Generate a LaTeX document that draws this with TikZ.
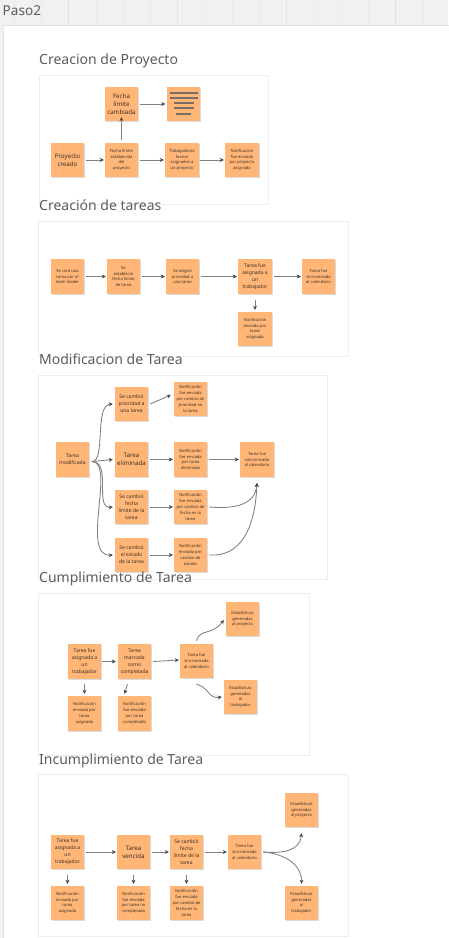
\documentclass[tikz,border=0pt]{standalone}
\usepackage{fontspec}
\setmainfont{Noto Sans}
\usetikzlibrary{arrows.meta,shadows}
\definecolor{notefill}{HTML}{FFB677}
\definecolor{framec}{HTML}{EDEDED}
\definecolor{bandc}{HTML}{F1F1F1}
\definecolor{gridc}{HTML}{EBEBEB}
\definecolor{gridd}{HTML}{E2E2E2}
\definecolor{titlec}{HTML}{5C5C5C}
\definecolor{linkc}{HTML}{808080}
\definecolor{inkc}{HTML}{3E3024}
\tikzset{
  notebox/.style={minimum width=#1,inner sep=0.5pt,align=center,text=inkc,fill=notefill,
    drop shadow={shadow xshift=0.7pt,shadow yshift=-1pt,opacity=.14,fill=black}},
  big/.style={font=\fontsize{6.2}{8.3}\selectfont},
  mid/.style={font=\fontsize{5}{7}\selectfont},
  small/.style={font=\fontsize{4.1}{5.8}\selectfont},
  frm/.style={draw=framec,line width=0.9pt,fill=white},
  ttl/.style={anchor=base west,inner sep=0pt,text=titlec,font=\fontsize{14}{15}\selectfont},
  lnk/.style={draw=linkc,line width=0.85pt,-{Stealth[length=4pt,width=4pt,color=black!72]}},
}
\newcommand{\note}[7]{% name, style, x0, y0, x1, y1, text
  \node[notebox=#5pt-#3pt,#2,minimum height=#6pt-#4pt] (#1) at ({(#3+#5)/2},{-(#4+#6)/2}) {#7};}
\begin{document}
\begin{tikzpicture}[x=1pt,y=1pt]
\useasboundingbox (0,0) rectangle (448,-938);
\fill[bandc] (0,0) rectangle (448,-938);
\foreach \g in {14,41,96,123,150,205,232,259,314,341,368,423}{\draw[gridc,line width=.5pt] (\g,0) -- (\g,-25);}
\foreach \g in {68,177,286,395}{\draw[gridd,line width=.6pt] (\g,0) -- (\g,-25);}
\draw[gridd,line width=1pt,fill=white] (3,-25.5) rectangle (449,-939);
\node[anchor=base west,inner sep=0pt,text=titlec,font=\fontsize{13.6}{15}\selectfont] (paso) at (2.5,-15) {Paso2};

% Section 1
\node[frm,anchor=north west,minimum width=229.5pt,minimum height=129.5pt,inner sep=0pt] (f1) at (38.5,-74.5) {};
\node[ttl] (t1) at (39,-64) {Creacion de Proyecto};
\note{a1}{big}{105}{87}{138}{121}{Fecha\\límite\\cambiada}
\note{a2}{big}{167}{87}{200}{121}{}
\foreach \yy/\hw in {93/14,98/14,103/10,108/10,114/7.5}{
  \draw[inkc!70,line width=1.1pt] (183.5-\hw,-\yy) -- (183.5+\hw,-\yy);}
\note{a3}{big}{51}{143}{84}{177}{Proyecto\\creado}
\note{a4}{small}{105}{143}{138}{177}{Fecha límite\\establecida\\del\\proyecto}
\note{a5}{small}{165}{143}{199}{177}{Trabajadores\\fueron\\asignados a\\un proyecto}
\note{a6}{small}{225}{143}{259}{177}{Notificación\\fue enviada\\por proyecto\\asignado}
\draw[lnk] ([xshift=2pt]a1.east) -- ([xshift=-1.5pt]a2.west);
\draw[lnk] ([yshift=3pt]a4.north) -- ([yshift=4pt]a4.north |- a1.south);
\draw[lnk] ([xshift=2pt]a3.east) -- ([xshift=-1pt]a4.west);
\draw[lnk] ([xshift=2pt]a4.east) -- ([xshift=-1pt]a5.west);
\draw[lnk] ([xshift=1pt]a5.east) -- ([xshift=-1pt]a6.west);

% Section 2
\node[frm,anchor=north west,minimum width=309.5pt,minimum height=135pt,inner sep=0pt] (f2) at (38.3,-220.7) {};
\node[ttl] (t2) at (39,-210) {Creación de tareas};
\note{b1}{small}{51}{259}{84}{294}{Se creó una\\tarea por el\\team leader}
\note{b2}{small}{107}{259}{140}{294}{Se\\estableció\\fecha límite\\de tarea}
\note{b3}{small}{166}{259}{199}{294}{Se asignó\\prioridad a\\una tarea}
\note{b4}{mid}{238}{259}{272}{294}{Tarea fue\\asignada a\\un\\trabajador}
\note{b5}{small}{302}{259}{335}{294}{Tarea fue\\sincronizada\\al calendario}
\note{b6}{small}{238}{312}{272}{346}{Notificación\\enviada por\\tarea\\asignada}
\draw[lnk] ([xshift=2pt]b1.east) -- ([xshift=-1pt]b2.west);
\draw[lnk] ([xshift=2pt]b2.east) -- ([xshift=-1pt]b3.west);
\draw[lnk] ([xshift=2pt]b3.east) -- ([xshift=-1pt]b4.west);
\draw[lnk] ([xshift=2pt]b4.east) -- ([xshift=-1pt]b5.west);
\draw[lnk] ([yshift=-6pt]b4.south) -- ([yshift=2pt]b6.north);

% Section 3
\node[frm,anchor=north west,minimum width=289pt,minimum height=204pt,inner sep=0pt] (f3) at (38,-374.5) {};
\node[ttl] (t3) at (39,-364) {Modificacion de Tarea};
\note{c1}{mid}{56}{442}{89}{477}{Tarea\\modificada}
\note{c2}{mid}{115}{387}{148}{421}{Se cambió\\prioridad a\\una tarea}
\note{c3}{small}{174}{382}{207}{416}{Notificación\\fue enviada\\por cambio de\\prioridad en\\la tarea}
\note{c4}{big}{115}{442}{148}{477}{Tarea\\eliminada}
\note{c5}{small}{174}{442}{207}{477}{Notificación\\fue enviada\\por tarea\\eliminada}
\note{c6}{small}{240}{442}{274}{477}{Tarea fue\\sincronizada\\al calendario}
\note{c7}{mid}{115}{490}{148}{524}{Se cambió\\fecha\\límite de la\\tarea}
\note{c8}{small}{174}{490}{207}{524}{Notificación\\fue enviada\\por cambio de\\fecha en la\\tarea}
\note{c9}{mid}{115}{538}{148}{572}{Se cambió\\el estado\\de la tarea}
\note{c10}{small}{174}{538}{207}{572}{Notificación\\enviada por\\cambio de\\estado}
\coordinate (cs) at (92,-461.5);
\coordinate (c6b) at (257,-483);
\draw[lnk] (cs) .. controls (106,-461.5) and (94,-405) .. ([xshift=-2pt]c2.west);
\draw[lnk] (cs) -- ([xshift=-2pt]c4.west);
\draw[lnk] (cs) .. controls (112,-461.5) and (94,-509) .. ([xshift=-2pt]c7.west);
\draw[lnk] (cs) .. controls (116,-461.5) and (80,-557) .. ([xshift=-2pt]c9.west);
\draw[lnk] ([xshift=2pt]c2.east) -- ([xshift=-3pt,yshift=4pt]c3.west);
\draw[lnk] ([xshift=2pt]c4.east) -- ([xshift=-1pt]c5.west);
\draw[lnk] ([xshift=2pt]c5.east) -- ([xshift=-1pt]c6.west);
\draw[lnk] ([xshift=2pt]c7.east) -- ([xshift=-1pt]c8.west);
\draw[lnk] ([xshift=2pt]c9.east) -- ([xshift=-1pt]c10.west);
\draw[lnk] ([xshift=2pt]c8.east) .. controls (235,-509) and (255,-505) .. (c6b);
\draw[lnk] ([xshift=2pt]c10.east) .. controls (240,-557) and (255,-530) .. (c6b);

% Section 4
\node[frm,anchor=north west,minimum width=271pt,minimum height=162pt,inner sep=0pt] (f4) at (38,-593) {};
\node[ttl] (t4) at (39,-582) {Cumplimiento de Tarea};
\note{d1}{mid}{68}{644}{101}{679}{Tarea fue\\asignada a\\un\\trabajador}
\note{d2}{mid}{118}{644}{151}{679}{Tarea\\marcada\\como\\completada}
\note{d3}{small}{180}{644}{213}{678}{Tarea fue\\sincronizada\\al calendario}
\note{d4}{small}{226}{602}{259}{636}{Estadísticas\\generadas\\al proyecto}
\note{d5}{small}{224}{680}{257}{714}{Estadísticas\\generadas\\al\\trabajador}
\note{d6}{small}{68}{696}{101}{731}{Notificación\\enviada por\\tarea\\asignada}
\note{d7}{small}{118}{696}{151}{731}{Notificación\\fue enviada\\por tarea\\completada}
\draw[lnk] ([xshift=1pt]d1.east) -- ([xshift=-2pt]d2.west);
\draw[lnk] ([xshift=2pt]d2.east) -- ([xshift=-1pt,yshift=1pt]d3.west);
\draw[lnk] ([yshift=-5pt]d1.south) -- ([yshift=2pt]d6.north);
\draw[lnk] ([yshift=-5pt,xshift=-7pt]d2.south) -- ([yshift=2pt,xshift=-10pt]d7.north);
\draw[lnk] ([yshift=3pt]d3.north) .. controls (200,-628) and (212,-636) .. ([xshift=-2pt,yshift=-1pt]d4.west);
\draw[lnk] ([yshift=-6pt]d3.south) .. controls (210,-688) and (208,-699) .. ([xshift=-2pt]d5.west);

% Section 5
\node[frm,anchor=north west,minimum width=310pt,minimum height=162pt,inner sep=0pt] (f5) at (38,-774) {};
\node[ttl] (t5) at (39,-764) {Incumplimiento de Tarea};
\note{e1}{mid}{51}{835}{84}{869}{Tarea fue\\asignada a\\un\\trabajador}
\note{e2}{big}{117}{835}{150}{869}{Tarea\\vencida}
\note{e3}{mid}{170}{835}{203}{869}{Se cambió\\fecha\\límite de la\\tarea}
\note{e4}{small}{228}{835}{261}{869}{Tarea fue\\sincronizada\\al calendario}
\note{e5}{small}{285}{793}{318}{827}{Estadísticas\\generadas\\al proyecto}
\note{e6}{small}{285}{886}{318}{920}{Estadísticas\\generadas\\al\\trabajador}
\note{e7}{small}{51}{886}{84}{920}{Notificación\\enviada por\\tarea\\asignada}
\note{e8}{small}{117}{886}{150}{920}{Notificación\\fue enviada\\por tarea no\\completada}
\note{e9}{small}{170}{886}{203}{920}{Notificación\\fue enviada\\por cambio de\\fecha en la\\tarea}
\draw[lnk] ([xshift=2pt]e1.east) -- ([xshift=-1pt]e2.west);
\draw[lnk] ([xshift=2pt]e2.east) -- ([xshift=-1pt]e3.west);
\draw[lnk] ([xshift=2pt]e3.east) -- ([xshift=-1pt]e4.west);
\draw[lnk] ([xshift=2pt]e4.east) .. controls (285,-853.7) and (300,-850) .. ([yshift=-6pt]e5.south);
\draw[lnk] ([xshift=2pt]e4.east) .. controls (285,-853.7) and (302,-865) .. ([yshift=2pt]e6.north);
\draw[lnk] ([yshift=-6pt]e1.south) -- ([yshift=2pt]e7.north);
\draw[lnk] ([yshift=-6pt]e2.south) -- ([yshift=2pt]e8.north);
\draw[lnk] ([yshift=-6pt]e3.south) -- ([yshift=2pt]e9.north);
\end{tikzpicture}
\end{document}
